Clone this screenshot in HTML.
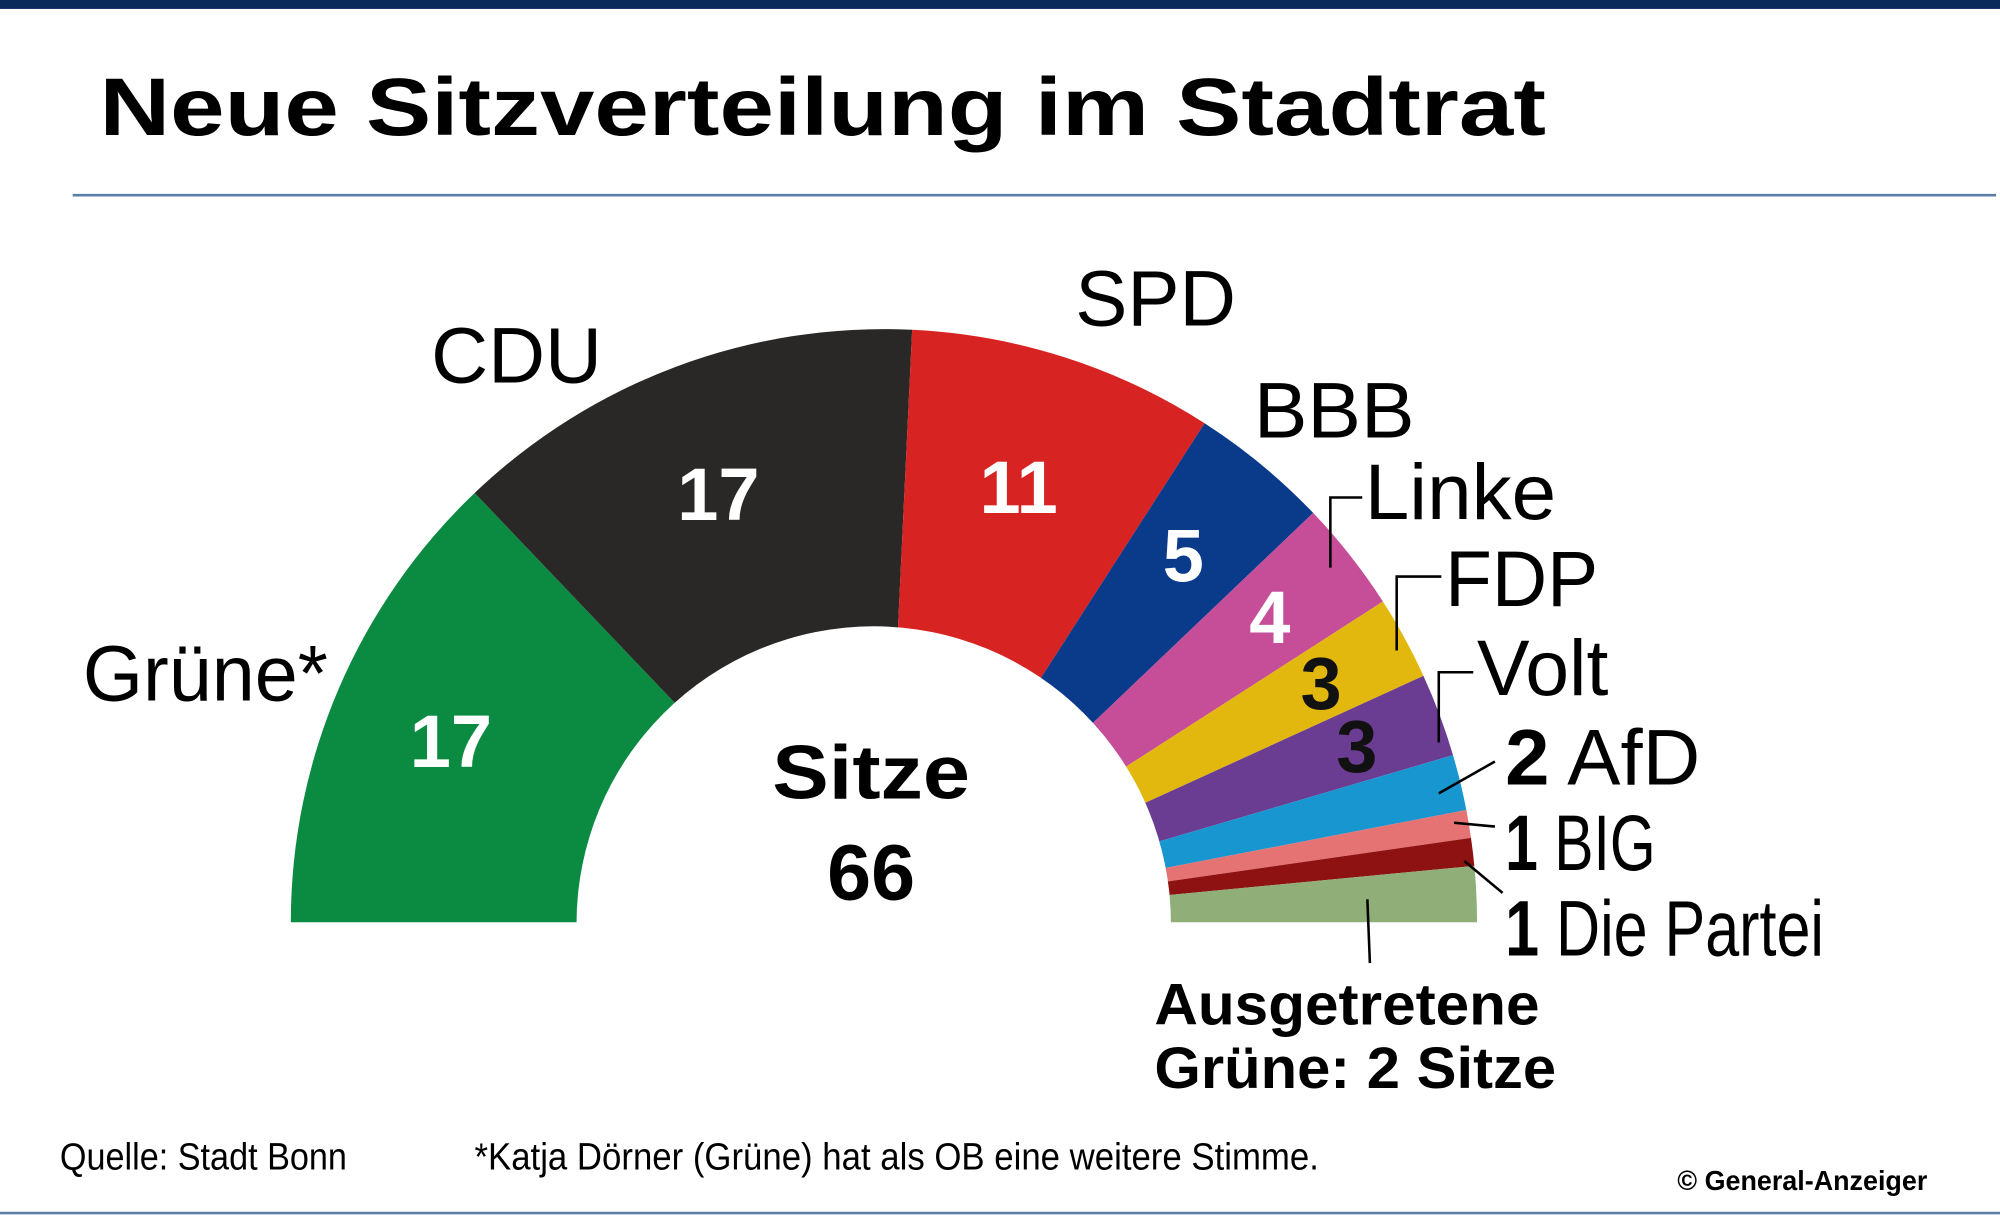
<!DOCTYPE html>
<html><head><meta charset="utf-8"><style>
html,body{margin:0;padding:0;background:#fff}
svg{display:block}
text{font-family:"Liberation Sans",sans-serif}
</style></head><body>
<svg id="chart" width="2000" height="1216" viewBox="0 0 1568 953.3" preserveAspectRatio="none" xmlns="http://www.w3.org/2000/svg">
<rect x="0" y="0" width="1568" height="7" fill="#0b2a5c"/>
<text x="78" y="106" font-size="64" font-weight="bold" fill="#000" textLength="1134" lengthAdjust="spacingAndGlyphs">Neue Sitzverteilung im Stadtrat</text>
<line x1="57" y1="153" x2="1565" y2="153" stroke="#5a7fa8" stroke-width="2"/>
<g id="wedges"></g>
<g id="labels"></g>
<text x="683" y="626" font-size="60" font-weight="bold" text-anchor="middle" textLength="155" lengthAdjust="spacingAndGlyphs">Sitze</text>
<text x="683" y="705" font-size="62" font-weight="bold" text-anchor="middle">66</text>
<text x="47" y="917" font-size="30" textLength="225" lengthAdjust="spacingAndGlyphs">Quelle: Stadt Bonn</text>
<text x="372" y="917" font-size="30" textLength="662" lengthAdjust="spacingAndGlyphs">*Katja Dörner (Grüne) hat als OB eine weitere Stimme.</text>
<text x="1315" y="933" font-size="22" font-weight="bold" font-family="Liberation Serif, serif" textLength="196" lengthAdjust="spacingAndGlyphs">© General-Anzeiger</text>
<line x1="0" y1="951" x2="1568" y2="951" stroke="#5a7fa8" stroke-width="2"/>
</svg>
<script>
const parties=["Grüne","CDU","SPD","BBB","Linke","FDP","Volt","AfD","BIG","Die Partei","Ausgetretene"];
const seats=[17,17,11,5,4,3,3,2,1,1,2];
const colors=["#0b8a42","#2a2826","#d82323","#0a3a8a","#c64d98","#e2b80e","#6a3c92","#1896cf","#e57373","#8e1212","#8fae78"];
const NS="http://www.w3.org/2000/svg";
const cx=693,cy=723,R=465,hcx=685,hr=233;
const total=seats.reduce((a,b)=>a+b,0);
function ang(s){return Math.PI-Math.PI*s/total;}
function pt(a,r){return [cx+r*Math.cos(a),cy-r*Math.sin(a)];}
const wg=document.getElementById('wedges');
let cum=0;
const mids=[];
seats.forEach((v,i)=>{
  const a0=ang(cum),a1=ang(cum+v);cum+=v;
  const p0=pt(a0,R),p1=pt(a1,R);
  const p=document.createElementNS(NS,'path');
  p.setAttribute('d',`M${cx},${cy} L${p0[0]},${p0[1]} A${R},${R} 0 0 1 ${p1[0]},${p1[1]} Z`);
  p.setAttribute('fill',colors[i]);
  
  
  wg.appendChild(p);
  mids.push((a0+a1)/2);
});
const hole=document.createElementNS(NS,'path');
hole.setAttribute('d',`M${hcx-hr},${cy+1} A${hr},${hr} 0 0 1 ${hcx+hr},${cy+1} Z`);
hole.setAttribute('fill','#fff');


wg.appendChild(hole);
const lg=document.getElementById('labels');
function txt(x,y,s,size,opt){
  const t=document.createElementNS(NS,'text');
  t.setAttribute('x',x);t.setAttribute('y',y);t.setAttribute('font-size',size);
  if(opt.bold)t.setAttribute('font-weight','bold');
  if(opt.fill)t.setAttribute('fill',opt.fill);
  if(opt.anchor)t.setAttribute('text-anchor',opt.anchor);
  if(opt.len){t.setAttribute('textLength',opt.len);t.setAttribute('lengthAdjust','spacingAndGlyphs');}
  t.textContent=s;lg.appendChild(t);return t;
}
const inner=[0,1,2,3,4,5,6];
const radii=[365,360,360,375,390,395,400];
const innerFill=["#fff","#fff","#fff","#fff","#fff","#111","#111"];
inner.forEach((i,k)=>{
  const p=pt(mids[i],radii[k]);
  const t=txt(p[0]-4,p[1]+22,String(seats[i]),58,{bold:true,fill:innerFill[k],anchor:'middle'});
  
  
});
const big=[["Grüne*",65,549,192],["CDU",338,300,134],["SPD",843,255,126],["BBB",983,343,126]];
big.forEach(b=>{const t=txt(b[1],b[2],b[0],62,{len:b[3]});
  
  });
const sm=[["Linke",1070,407,150,"M1043,445 L1043,390 L1068,390"],["FDP",1133,475,120,"M1095,510 L1095,452 L1130,452"],["Volt",1158,545,103,"M1128,582 L1128,527 L1155,527"]];
sm.forEach(b=>{const t=txt(b[1],b[2],b[0],62,{len:b[3]});
  
  
  const l=document.createElementNS(NS,'path');l.setAttribute('d',b[4]);l.setAttribute('stroke','#000');l.setAttribute('stroke-width','2');l.setAttribute('fill','none');
  
  
  lg.appendChild(l);});
const rl=[[7,"AfD",1180,615,153,"M1128,622 L1172,597"],[8,"BIG",1180,682,118,"M1140,645 L1172,648"],[9,"Die Partei",1180,749,250,"M1148,675 L1178,700"]];
rl.forEach(b=>{
  const t=txt(b[2],b[3],"",62,{len:b[4]});
  
  
  const s1=document.createElementNS(NS,'tspan');s1.setAttribute('font-weight','bold');s1.textContent=String(seats[b[0]]);t.appendChild(s1);
  const s2=document.createElementNS(NS,'tspan');s2.textContent=" "+b[1];t.appendChild(s2);
  const l=document.createElementNS(NS,'path');l.setAttribute('d',b[5]);l.setAttribute('stroke','#000');l.setAttribute('stroke-width','2');l.setAttribute('fill','none');
  
  
  lg.appendChild(l);
});
const a1=txt(905,803,"Ausgetretene",46,{bold:true,len:302});


const a2=txt(905,853,"Grüne: "+seats[10]+" Sitze",46,{bold:true,len:315});


const al=document.createElementNS(NS,'path');al.setAttribute('d','M1072,705 L1074,755');al.setAttribute('stroke','#000');al.setAttribute('stroke-width','2');


lg.appendChild(al);
</script>
</body></html>
